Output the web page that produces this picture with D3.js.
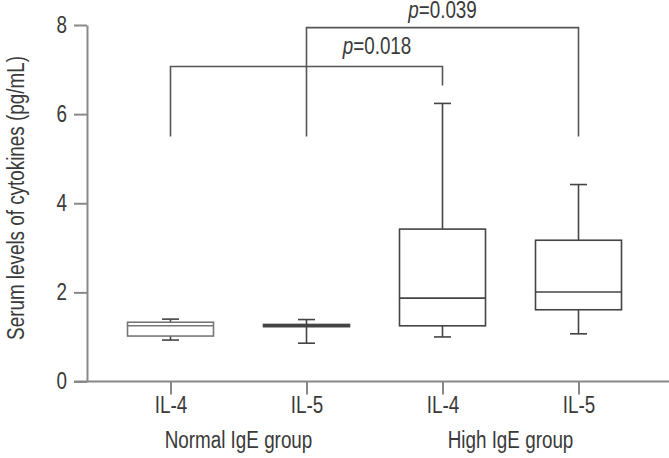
<!DOCTYPE html>
<html>
<head>
<meta charset="utf-8">
<script src="https://cdn.jsdelivr.net/npm/d3@7"></script>
<style>
  body { margin: 0; background: #fff; }
  text { font-family: "Liberation Sans", Arial, sans-serif; fill: #3a3a3a; }
</style>
</head>
<body>
<div id="chart"></div>
<script>
var svgWidth = 669;
var svgHeight = 458;

// categories and tick labels
var categories = ["n4", "n5", "h4", "h5"];
var tickLabels = ["IL-4", "IL-5", "IL-4", "IL-5"];
var groupLabels = ["Normal IgE group", "High IgE group"];
var yTicks = [0, 2, 4, 6, 8];

// box plot values (pg/mL)
var whiskerLow  = [0.93, 0.86, 1.00, 1.07];
var q1Values    = [1.02, 1.23, 1.25, 1.61];
var medians     = [1.25, 1.26, 1.87, 2.01];
var q3Values    = [1.33, 1.28, 3.42, 3.17];
var whiskerHigh = [1.40, 1.39, 6.24, 4.42];

// significance brackets
var bracketFrom   = [0, 1];
var bracketTo     = [2, 3];
var bracketTop    = [7.07, 7.94];
var bracketLegL   = [5.5, 5.5];
var bracketLegR   = [6.64, 5.5];
var bracketPvalue = ["0.018", "0.039"];

var fontSize = "23px";

// condensed look: squeeze text horizontally around its anchor
var squeeze = 0.82;
function condense(sel) {
  sel.each(function() {
    var t = d3.select(this);
    var x = +t.attr("x") || 0;
    var y = +t.attr("y") || 0;
    t.attr("transform", `translate(${x},${y}) scale(${squeeze},1) translate(${-x},${-y})`);
  });
}

var svg = d3.select("#chart")
  .append("svg")
  .attr("width", svgWidth)
  .attr("height", svgHeight);

var yScale = d3.scaleLinear()
  .domain([0, 8])
  .range([381.5, 25]);

var xScale = d3.scalePoint()
  .domain(categories)
  .range([170.5, 578.5]);

var boxWidth = 86;
var capWidth = 17;
var lineColor = "#444";

// y axis
var yAxis = svg.append("g")
  .attr("transform", "translate(87,0)")
  .call(d3.axisLeft(yScale).tickValues(yTicks).tickSize(13).tickSizeOuter(0).tickPadding(7));

yAxis.selectAll("path, line").attr("stroke", "#888").attr("stroke-width", 2);
yAxis.selectAll("text").style("font-size", fontSize).attr("fill", "#3a3a3a").call(condense);

// x axis
svg.append("line")
  .attr("x1", 74).attr("x2", 669)
  .attr("y1", yScale(0)).attr("y2", yScale(0))
  .attr("stroke", "#888").attr("stroke-width", 2);

var xAxis = svg.append("g")
  .attr("transform", `translate(0, ${yScale(0)})`)
  .call(d3.axisBottom(xScale).tickSize(13).tickPadding(2).tickFormat((d, i) => tickLabels[i]));

xAxis.select(".domain").remove();
xAxis.selectAll("line").attr("stroke", "#888").attr("stroke-width", 2);
xAxis.selectAll("text").style("font-size", fontSize).attr("fill", "#3a3a3a").call(condense);

// group labels
svg.selectAll(".groupLabel")
  .data(groupLabels)
  .enter()
  .append("text")
  .attr("class", "groupLabel")
  .attr("x", (d, i) => (xScale(categories[i * 2]) + xScale(categories[i * 2 + 1])) / 2)
  .attr("y", 448)
  .attr("text-anchor", "middle")
  .style("font-size", fontSize)
  .text(d => d)
  .call(condense);

// y axis title
svg.append("text")
  .attr("transform", `translate(24,198) rotate(-90) scale(${squeeze},1)`)
  .attr("text-anchor", "middle")
  .style("font-size", fontSize)
  .text("Serum levels of cytokines (pg/mL)");

// boxes
var boxes = svg.selectAll(".box")
  .data(categories)
  .enter()
  .append("g")
  .attr("class", "box")
  .attr("transform", d => `translate(${xScale(d)},0)`);

// whiskers
boxes.append("line")
  .attr("x1", 0).attr("x2", 0)
  .attr("y1", (d, i) => yScale(whiskerHigh[i]))
  .attr("y2", (d, i) => yScale(q3Values[i]))
  .attr("stroke", lineColor).attr("stroke-width", 1.6);

boxes.append("line")
  .attr("x1", 0).attr("x2", 0)
  .attr("y1", (d, i) => yScale(q1Values[i]))
  .attr("y2", (d, i) => yScale(whiskerLow[i]))
  .attr("stroke", lineColor).attr("stroke-width", 1.6);

boxes.append("line")
  .attr("x1", -capWidth / 2).attr("x2", capWidth / 2)
  .attr("y1", (d, i) => yScale(whiskerHigh[i]))
  .attr("y2", (d, i) => yScale(whiskerHigh[i]))
  .attr("stroke", lineColor).attr("stroke-width", 1.6);

boxes.append("line")
  .attr("x1", -capWidth / 2).attr("x2", capWidth / 2)
  .attr("y1", (d, i) => yScale(whiskerLow[i]))
  .attr("y2", (d, i) => yScale(whiskerLow[i]))
  .attr("stroke", lineColor).attr("stroke-width", 1.6);

boxes.append("rect")
  .attr("x", -boxWidth / 2)
  .attr("width", boxWidth)
  .attr("y", (d, i) => yScale(q3Values[i]))
  .attr("height", (d, i) => yScale(q1Values[i]) - yScale(q3Values[i]))
  .attr("fill", "#fff")
  .attr("stroke", (d, i) => i === 0 ? "#777" : lineColor)
  .attr("stroke-width", 1.6);

boxes.append("line")
  .attr("x1", -boxWidth / 2).attr("x2", boxWidth / 2)
  .attr("y1", (d, i) => yScale(medians[i]))
  .attr("y2", (d, i) => yScale(medians[i]))
  .attr("stroke", (d, i) => i === 0 ? "#777" : lineColor)
  .attr("stroke-width", 1.6);

// significance brackets
var brackets = svg.selectAll(".bracket")
  .data(bracketPvalue)
  .enter()
  .append("g")
  .attr("class", "bracket");

brackets.append("path")
  .attr("d", function(d, i) {
    var x1 = xScale(categories[bracketFrom[i]]);
    var x2 = xScale(categories[bracketTo[i]]);
    return `M${x1},${yScale(bracketLegL[i])}V${yScale(bracketTop[i])}H${x2}V${yScale(bracketLegR[i])}`;
  })
  .attr("fill", "none")
  .attr("stroke", "#555")
  .attr("stroke-width", 1.6);

var pText = brackets.append("text")
  .attr("x", function(d, i) {
    // 0.018 label sits right of the bracket centre
    return i === 0 ? 377 : (xScale(categories[bracketFrom[i]]) + xScale(categories[bracketTo[i]])) / 2;
  })
  .attr("y", (d, i) => Math.max(yScale(bracketTop[i]) - 12, 18))
  .attr("text-anchor", "middle")
  .style("font-size", fontSize)
  .call(condense);

pText.append("tspan").style("font-style", "italic").text("p");
pText.append("tspan").text(d => "=" + d);
</script>
</body>
</html>
